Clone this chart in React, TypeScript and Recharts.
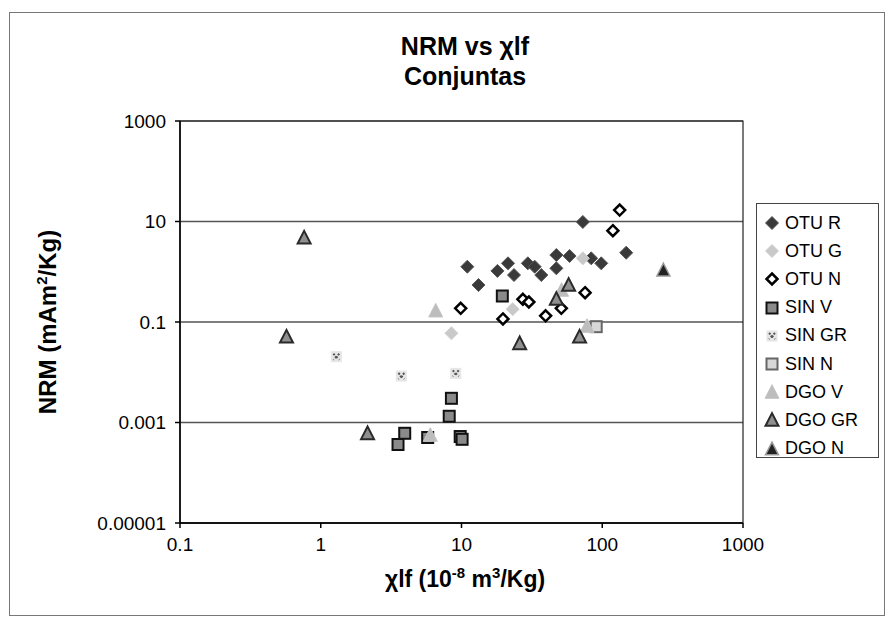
import { ScatterChart, Scatter, XAxis, YAxis, CartesianGrid, ReferenceArea } from "recharts";

type Pt = { x: number; y: number };

const xTicks = [0.1, 1, 10, 100, 1000];
const yTicks = [0.00001, 0.001, 0.1, 10, 1000];

// values
const otuR: Pt[] = [
  { x: 11.0, y: 1.26 }, { x: 13.2, y: 0.545 }, { x: 18.0, y: 1.04 }, { x: 21.4, y: 1.47 },
  { x: 23.6, y: 0.86 }, { x: 29.6, y: 1.47 }, { x: 33.1, y: 1.26 }, { x: 36.9, y: 0.86 },
  { x: 47.2, y: 2.15 }, { x: 47.2, y: 1.17 }, { x: 58.6, y: 2.06 }, { x: 72.8, y: 9.8 },
  { x: 83.5, y: 1.85 }, { x: 98.4, y: 1.47 }, { x: 148, y: 2.39 },
];
const otuG: Pt[] = [{ x: 8.48, y: 0.0596 }, { x: 23.1, y: 0.18 }, { x: 72.8, y: 1.85 }];
const otuN: Pt[] = [
  { x: 9.87, y: 0.187 }, { x: 19.7, y: 0.115 }, { x: 27.3, y: 0.283 }, { x: 30.1, y: 0.25 },
  { x: 39.6, y: 0.133 }, { x: 51.2, y: 0.187 }, { x: 75.5, y: 0.383 }, { x: 119, y: 6.56 },
  { x: 133, y: 16.9 },
];
const sinV: Pt[] = [
  { x: 8.48, y: 0.00303 }, { x: 8.18, y: 0.00133 }, { x: 3.95, y: 0.00061 }, { x: 3.54, y: 0.000365 },
  { x: 5.75, y: 0.000503 }, { x: 9.79, y: 0.000526 }, { x: 10.1, y: 0.000463 }, { x: 19.5, y: 0.329 },
];
const sinGR: Pt[] = [{ x: 1.29, y: 0.0204 }, { x: 3.74, y: 0.0084 }, { x: 9.1, y: 0.0095 }];
const sinN: Pt[] = [{ x: 90.6, y: 0.0807 }];
const dgoV: Pt[] = [
  { x: 6.56, y: 0.168 }, { x: 6.0, y: 0.000564 }, { x: 51.4, y: 0.434 }, { x: 78.0, y: 0.083 },
];
const dgoGR: Pt[] = [
  { x: 0.762, y: 4.76 }, { x: 0.571, y: 0.051 }, { x: 2.15, y: 0.00061 }, { x: 25.9, y: 0.0377 },
  { x: 69.0, y: 0.051 }, { x: 57.7, y: 0.545 }, { x: 47.2, y: 0.287 },
];
const dgoN: Pt[] = [{ x: 272, y: 1.08 }];

const FONT = '"Liberation Sans", Arial, sans-serif';

const diamond = (fill: string, stroke: string, sw: number, r: number) => (p: any) => {
  const { cx, cy } = p;
  return (
    <path
      d={`M${cx},${cy - r}L${cx + r},${cy}L${cx},${cy + r}L${cx - r},${cy}Z`}
      fill={fill}
      stroke={stroke}
      strokeWidth={sw}
    />
  );
};

const square = (fill: string, stroke: string, sw: number, s: number, cross = false) => (p: any) => {
  const { cx, cy } = p;
  return (
    <g>
      <rect x={cx - s / 2} y={cy - s / 2} width={s} height={s} fill={fill} stroke={stroke} strokeWidth={sw} />
      {cross && (
        <path
          d={`M${cx - 3},${cy - 3}L${cx + 3},${cy + 3}M${cx + 3},${cy - 3}L${cx - 3},${cy + 3}`}
          stroke="#555"
          strokeWidth={2}
          strokeDasharray="2 2"
        />
      )}
    </g>
  );
};

const triangle = (fill: string, stroke: string, sw: number, s: number) => (p: any) => {
  const { cx, cy } = p;
  const h = s * 0.9;
  return (
    <path
      d={`M${cx},${cy - h / 2 - 1}L${cx + s / 2},${cy + h / 2}L${cx - s / 2},${cy + h / 2}Z`}
      fill={fill}
      stroke={stroke}
      strokeWidth={sw}
    />
  );
};

const series = [
  { name: "OTU R", data: otuR, shape: diamond("#3a3a3a", "#555", 1, 6.5) },
  { name: "OTU G", data: otuG, shape: diamond("#c9c9c9", "#d0d0d0", 1, 6.5) },
  { name: "OTU N", data: otuN, shape: diamond("#fff", "#000", 2.5, 5.5) },
  { name: "SIN V", data: sinV, shape: square("#8a8a8a", "#111", 2, 11) },
  { name: "SIN GR", data: sinGR, shape: square("#e6e6e6", "#e6e6e6", 1, 10, true) },
  { name: "SIN N", data: sinN, shape: square("#d8d8d8", "#666", 2, 11) },
  { name: "DGO V", data: dgoV, shape: triangle("#bdbdbd", "#c4c4c4", 1, 14) },
  { name: "DGO GR", data: dgoGR, shape: triangle("#8f8f8f", "#2a2a2a", 2, 13) },
  { name: "DGO N", data: dgoN, shape: triangle("#222", "#999", 1.5, 13) },
];

const fmt = (v: number) => String(v);

export default function App() {
  return (
    <div
      style={{
        position: "relative",
        width: 874,
        height: 602,
        marginLeft: 1,
        marginTop: 4,
        border: "1px solid #777",
        fontFamily: FONT,
        background: "#fff",
      }}
    >
      <div style={{ position: "absolute", left: 0, width: 910, top: 18, textAlign: "center", fontWeight: "bold", fontSize: 25, lineHeight: "30px", color: "#000" }}>
        NRM vs χlf
        <br />
        Conjuntas
      </div>
      <div style={{ position: "absolute", left: 37, top: 309, width: 0, height: 0 }}>
        <div
          style={{
            position: "absolute",
            transform: "translate(-50%, -50%) rotate(-90deg)",
            whiteSpace: "nowrap",
            fontWeight: "bold",
            fontSize: 24,
          }}
        >
          NRM (mAm<sup style={{ fontSize: 15 }}>2</sup>/Kg)
        </div>
      </div>
      <div style={{ position: "absolute", left: 0, width: 910, top: 551, textAlign: "center", fontWeight: "bold", fontSize: 23 }}>
        χlf (10<sup style={{ fontSize: 15 }}>-8</sup> m<sup style={{ fontSize: 15 }}>3</sup>/Kg)
      </div>

      <ScatterChart
        width={874}
        height={602}
        margin={{ top: 108, right: 141, bottom: 32, left: 90 }}
        style={{ fontFamily: FONT }}
      >
        <CartesianGrid horizontal vertical={false} stroke="#555" strokeWidth={1.5} />
        <XAxis
          type="number"
          dataKey="x"
          scale="log"
          domain={[0.1, 1000]}
          ticks={xTicks}
          tickFormatter={fmt}
          allowDataOverflow
          height={60}
          tickSize={5}
          tickMargin={10}
          stroke="#000"
          strokeWidth={1.5}
          tick={{ fill: "#000", fontSize: 19 }}
        />
        <YAxis
          type="number"
          dataKey="y"
          scale="log"
          domain={[0.00001, 1000]}
          ticks={yTicks}
          tickFormatter={fmt}
          allowDataOverflow
          width={80}
          tickSize={5}
          tickMargin={9}
          stroke="#000"
          strokeWidth={1.5}
          tick={{ fill: "#000", fontSize: 19 }}
        />
        <ReferenceArea x1={0.1} x2={1000} y1={0.00001} y2={1000} fill="none" stroke="#222" strokeWidth={1.2} />
        {series.map((s) => (
          <Scatter key={s.name} name={s.name} data={s.data} shape={s.shape} isAnimationActive={false} />
        ))}
      </ScatterChart>

      <div
        style={{
          position: "absolute",
          left: 746,
          top: 190,
          width: 123,
          height: 255,
          border: "1px solid #444",
          boxSizing: "border-box",
          paddingTop: 5,
        }}
      >
        {series.map((s) => (
          <div key={s.name} style={{ display: "flex", alignItems: "center", height: 28.2, fontSize: 18 }}>
            <svg width={22} height={20} style={{ marginLeft: 5 }}>
              {s.shape({ cx: 10, cy: 10 })}
            </svg>
            <span style={{ marginLeft: 1 }}>{s.name}</span>
          </div>
        ))}
      </div>
    </div>
  );
}
